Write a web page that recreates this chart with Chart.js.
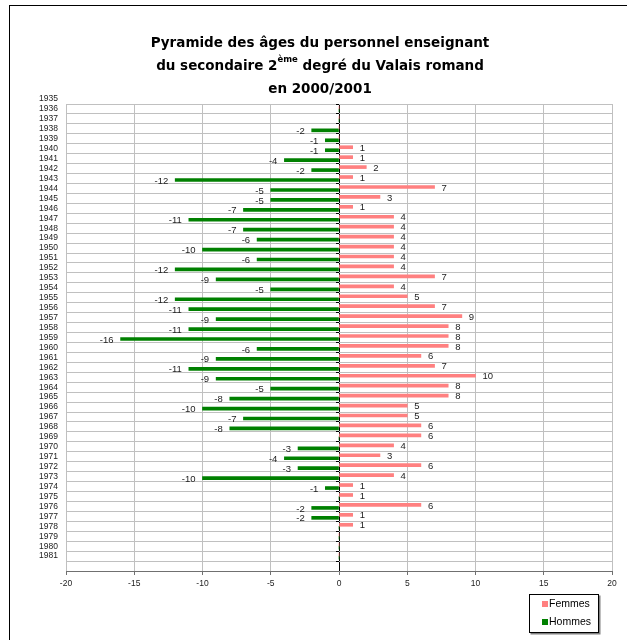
<!DOCTYPE html>
<html>
<head>
<meta charset="utf-8">
<script src="https://cdn.jsdelivr.net/npm/chart.js@4.4.1/dist/chart.umd.min.js"></script>
<style>
  html, body { margin: 0; padding: 0; background: #fff; }
</style>
</head>
<body>
<canvas id="pyramide" width="627" height="640"></canvas>
<script>

var annees = ['1935','1936','1937','1938','1939','1940','1941','1942','1943','1944',
              '1945','1946','1947','1948','1949','1950','1951','1952','1953','1954',
              '1955','1956','1957','1958','1959','1960','1961','1962','1963','1964',
              '1965','1966','1967','1968','1969','1970','1971','1972','1973','1974',
              '1975','1976','1977','1978','1979','1980','1981'];

var femmes = [0, 0, 0, 0, 0, 1, 1, 2, 1, 7,
              3, 1, 4, 4, 4, 4, 4, 4, 7, 4,
              5, 7, 9, 8, 8, 8, 6, 7, 10, 8,
              8, 5, 5, 6, 6, 4, 3, 6, 4, 1,
              1, 6, 1, 1, 0, 0, 0];

var hommes = [0, 0, 0, -2, -1, -1, -4, -2, -12, -5,
              -5, -7, -11, -7, -6, -10, -6, -12, -9, -5,
              -12, -11, -9, -11, -16, -6, -9, -11, -9, -5,
              -8, -10, -7, -8, 0, -3, -4, -3, -10, -1,
              0, -2, -2, 0, 0, 0, 0];

var xMin = -20, xMax = 20, xPas = 5;

var titre1 = 'Pyramide des âges du personnel enseignant';
var titre2 = ['du secondaire 2', 'ème', ' degré du Valais romand'];
var titre3 = 'en 2000/2001';

var ROSE = '#FF8080';
var VERT = '#008000';
var GRILLE = '#C0C0C0';

// the Excel original puts the plot edge between 1935 and 1936
function decaleCategories(scale){
	scale._startValue = 0.5;
	scale._valueRange = scale.getLabels().length;
}

var cadrePlugin = {
	id: 'cadre',
	beforeDraw: function(chart){
		var ctx = chart.ctx;
		ctx.save();
		ctx.fillStyle = '#fff';
		ctx.fillRect(0, 0, chart.width, chart.height);
		ctx.strokeStyle = '#000';
		ctx.lineWidth = 1;
		ctx.strokeRect(9.5, 5.5, chart.width + 20, chart.height + 20);
		ctx.restore();
	}
};

var titrePlugin = {
	id: 'titre',
	afterDraw: function(chart){
		var ctx = chart.ctx;
		var cx = 320;
		var gros = 'bold 13.5px "DejaVu Sans"';
		var petit = 'bold 8.5px "DejaVu Sans"';
		ctx.save();
		ctx.fillStyle = '#000';
		ctx.textBaseline = 'middle';
		ctx.font = gros;
		ctx.textAlign = 'center';
		ctx.fillText(titre1, cx, 43);
		ctx.fillText(titre3, cx, 89);

		var wa = ctx.measureText(titre2[0]).width;
		var wb = ctx.measureText(titre2[2]).width;
		ctx.font = petit;
		var ws = ctx.measureText(titre2[1]).width;
		var x0 = cx - (wa + ws + wb) / 2;
		ctx.textAlign = 'left';
		ctx.font = gros;
		ctx.fillText(titre2[0], x0, 66);
		ctx.font = petit;
		ctx.fillText(titre2[1], x0 + wa, 60);
		ctx.font = gros;
		ctx.fillText(titre2[2], x0 + wa + ws, 66);
		ctx.restore();
	}
};

var etiquettesPlugin = {
	id: 'etiquettes',
	afterDatasetsDraw: function(chart){
		var ctx = chart.ctx;
		ctx.save();
		ctx.font = '9.5px "Liberation Sans"';
		ctx.fillStyle = '#222';
		ctx.textBaseline = 'middle';
		chart.data.datasets.forEach(function(ds, i){
			var meta = chart.getDatasetMeta(i);
			meta.data.forEach(function(bar, j){
				var v = ds.data[j];
				if (!v) return;
				if (v > 0) {
					ctx.textAlign = 'left';
					ctx.fillText(String(v), bar.x + 7, bar.y + 1);
				} else {
					ctx.textAlign = 'right';
					ctx.fillText(String(v), bar.x - 7, bar.y + 1);
				}
			});
		});
		ctx.restore();
	}
};

var legendePlugin = {
	id: 'legende',
	afterDraw: function(chart){
		var ctx = chart.ctx;
		var x = 529.5, y = 594.5, w = 69, h = 38;
		ctx.save();
		ctx.fillStyle = '#808080';
		ctx.fillRect(x + 1, y + 1, w + 1, h + 1);
		ctx.fillStyle = '#fff';
		ctx.fillRect(x, y, w, h);
		ctx.strokeStyle = '#000';
		ctx.lineWidth = 1;
		ctx.strokeRect(x, y, w, h);
		ctx.font = '10.5px "Liberation Sans"';
		ctx.textBaseline = 'middle';
		ctx.textAlign = 'left';
		chart.data.datasets.forEach(function(ds, i){
			var yy = 604 + i * 18;
			ctx.fillStyle = ds.backgroundColor;
			ctx.fillRect(542, yy - 3, 6, 6);
			ctx.fillStyle = '#000';
			ctx.fillText(ds.label, 549, yy);
		});
		ctx.restore();
	}
};

var ctx = document.getElementById('pyramide').getContext('2d');

var graphique = new Chart(ctx, {
	type: 'bar',
	data: {
		labels: annees,
		datasets: [
			{
				label: 'Femmes',
				data: femmes,
				backgroundColor: ROSE,
				borderWidth: 0,
				barThickness: 3
			},
			{
				label: 'Hommes',
				data: hommes,
				backgroundColor: VERT,
				borderWidth: 0,
				barThickness: 3
			}
		]
	},
	options: {
		indexAxis: 'y',
		responsive: false,
		animation: false,
		devicePixelRatio: 1,
		layout: { padding: { top: 104, right: 15, bottom: 0, left: 0 } },
		plugins: {
			legend: { display: false },
			title: { display: false },
			tooltip: { enabled: false }
		},
		scales: {
			x: {
				type: 'linear',
				min: xMin,
				max: xMax,
				ticks: {
					stepSize: xPas,
					font: { family: 'Liberation Sans', size: 8.5 },
					color: '#222',
					padding: 4
				},
				grid: {
					color: function(c){ return c.tick && c.tick.value === 0 ? '#000' : GRILLE; },
					tickColor: '#707070',
					tickLength: 4
				},
				border: { color: '#707070', width: 1 },
				afterFit: function(scale){ scale.height = 69; }
			},
			y: {
				type: 'category',
				offset: true,
				ticks: {
					autoSkip: false,
					font: { family: 'Liberation Sans', size: 8.5 },
					color: '#222',
					padding: 8
				},
				grid: {
					offset: true,
					color: GRILLE,
					drawTicks: false
				},
				border: { display: false },
				afterBuildTicks: decaleCategories,
				afterFit: function(scale){ scale.width = 66; }
			},
			axe0: {
				type: 'category',
				axis: 'y',
				position: { x: 0 },
				offset: true,
				ticks: { display: false },
				grid: {
					offset: true,
					drawOnChartArea: false,
					tickColor: '#000',
					tickLength: 3
				},
				border: { display: false },
				afterBuildTicks: decaleCategories
			}
		}
	},
	plugins: [cadrePlugin, titrePlugin, etiquettesPlugin, legendePlugin]
});

</script>
</body>
</html>
